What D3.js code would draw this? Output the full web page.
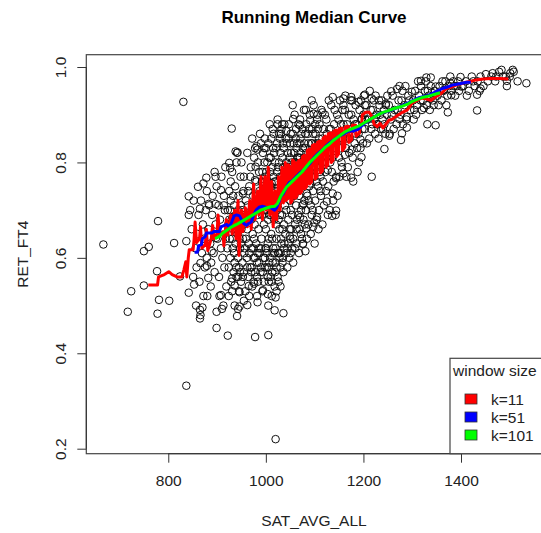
<!DOCTYPE html>
<html>
<head>
<meta charset="utf-8">
<script src="https://cdn.jsdelivr.net/npm/d3@7"></script>
<style>
  body { margin: 0; background: #fff; }
  svg { display: block; font-family: "Liberation Sans", Arial, Helvetica, sans-serif; }
</style>
</head>
<body>
<svg id="chart" width="541" height="533"></svg>
<script>
// tick values of the two axes
var xTicks = [800, 1000, 1200, 1400];
var yTicks = [0.2, 0.4, 0.6, 0.8, 1.0];

// scatter: [SAT_AVG_ALL, RET_FT4]
var outlierPoints = [
  [667,0.628],[717,0.487],[724,0.530],[750,0.614],[760,0.623],[750,0.542],[777,0.572],[779,0.677],
  [781,0.512],[778,0.483],[802,0.510],[812,0.631],[831,0.927],[837,0.635],[837,0.332],[824,0.561],
  [842,0.729],[842,0.690],[842,0.527],[853,0.544],[851,0.560],[865,0.491],[865,0.473],[870,0.496],
  [866,0.589],[879,0.583],[882,0.558],[880,0.520],[899,0.453],[899,0.487],[910,0.493],[908,0.522],
  [922,0.437],[930,0.871],[941,0.478],[943,0.493],[946,0.498],[962,0.501],[978,0.434],[983,0.507],
  [976,0.546],[965,0.541],[1005,0.438],[1020,0.220],[1020,0.517],[1004,0.524],[994,0.532],[1036,0.484],
  [946,0.528],[931,0.530],[936,0.542],[931,0.557],[898,0.642],[889,0.614],[879,0.600],[878,0.768],
  [872,0.756],[861,0.749],[865,0.703],[883,0.713],[897,0.770],[897,0.713],[908,0.742],[914,0.710],
  [925,0.799],[927,0.788],[938,0.823],[942,0.821],[955,0.770],[953,0.735],[981,0.834],[983,0.827],
  [979,0.791],[978,0.763],[993,0.759],[1012,0.756]
];
var upperPoints = [
  [1137,0.937],[1175,0.937],[1159,0.920],[1203,0.942],[1217,0.770],[1243,0.828],[1257,0.949],[1269,0.954],
  [1277,0.847],[1279,0.861],[1281,0.880],[1303,0.890],[1299,0.948],[1318,0.971],[1329,0.978],[1338,0.978],
  [1348,0.878],[1348,0.959],[1365,0.952],[1378,0.966],[1399,0.979],[1401,0.959],[1433,0.909],[1433,0.942],
  [1440,0.955],[1451,0.985],[1465,0.987],[1483,0.994],[1494,0.971],[1501,0.987],[1506,0.994],[1534,0.966],
  [1492,0.980],[1472,0.980],
  [1056,0.891],[1024,0.880],[1034,0.880],[1042,0.866],[1070,0.878],[1091,0.888],[1116,0.905],[1098,0.902],
  [1159,0.934],[1190,0.927],[1203,0.920],[1217,0.934],[1232,0.930],[1246,0.923],[1289,0.895],[1253,0.856],
  [1274,0.891],[1317,0.930],[1324,0.914],[1338,0.934],[1373,0.905],[1380,0.941],[1289,0.873],[1331,0.880],
  [1197,0.891],[1169,0.863],[1194,0.848],[1196,0.811],[1176,0.827],[1162,0.816],[1159,0.777],[1175,0.768],
  [1144,0.767],[1137,0.735],[1125,0.718],[1144,0.699],[1136,0.688],[1105,0.685],[1099,0.674],[1097,0.665],
  [1081,0.614],[1076,0.629],[1083,0.662],[1063,0.660],[1049,0.646],[1070,0.685],[1077,0.713],[1084,0.735],
  [1091,0.756],[1112,0.770],[1127,0.784],[1112,0.806]
];
var bandPoints = [
  // 840 - 920
  [845,0.70],[848,0.66],[852,0.72],[856,0.62],[858,0.58],[860,0.65],[862,0.69],[864,0.55],[867,0.72],
  [869,0.61],[871,0.67],[873,0.64],[875,0.58],[877,0.70],[879,0.74],[872,0.52],[866,0.48],[857,0.50],
  [882,0.66],[884,0.71],[886,0.63],[888,0.59],[890,0.69],[891,0.73],[893,0.61],[895,0.57],[897,0.67],
  [899,0.75],[901,0.64],[903,0.71],[904,0.56],[906,0.68],[908,0.62],[909,0.77],[911,0.60],[912,0.66],
  [914,0.73],[915,0.58],[916,0.70],[918,0.64],[919,0.54],[917,0.79],[913,0.50],[905,0.52],[887,0.54],[895,0.78],
  // 920 - 960
  [921,0.62],[922,0.70],[923,0.67],[924,0.58],[925,0.74],[926,0.64],[927,0.60],[928,0.72],[929,0.55],
  [930,0.68],[931,0.78],[932,0.62],[933,0.66],[934,0.57],[935,0.71],[936,0.59],[937,0.75],[938,0.63],
  [939,0.69],[940,0.56],[941,0.82],[942,0.65],[943,0.60],[944,0.73],[945,0.58],[946,0.68],[947,0.62],
  [948,0.77],[949,0.55],[950,0.66],[951,0.70],[952,0.59],[953,0.64],[954,0.74],[955,0.57],[956,0.61],
  [957,0.69],[958,0.53],[959,0.72],[924,0.52],[936,0.50],[945,0.53],[955,0.51],[940,0.80],[950,0.80],
  [928,0.76],[953,0.56],[947,0.57],[943,0.56],[939,0.58],[935,0.61],[946,0.64],[957,0.62],[933,0.73],[949,0.71],
  [925,0.68],[931,0.64],[937,0.67],[943,0.70],[949,0.63],[955,0.67],[959,0.64],[927,0.70],
  // 960 - 1000
  [961,0.60],[962,0.66],[963,0.71],[964,0.56],[965,0.63],[966,0.75],[967,0.68],[968,0.58],[969,0.79],
  [970,0.62],[971,0.70],[972,0.54],[973,0.65],[974,0.73],[975,0.60],[976,0.81],[977,0.67],[978,0.57],
  [979,0.71],[980,0.63],[981,0.76],[982,0.59],[983,0.69],[984,0.55],[985,0.66],[986,0.78],[987,0.61],
  [988,0.72],[989,0.57],[990,0.84],[991,0.64],[992,0.69],[993,0.53],[994,0.75],[995,0.60],[996,0.67],
  [997,0.80],[998,0.58],[999,0.73],[962,0.82],[968,0.77],[972,0.85],[978,0.83],[984,0.80],[988,0.86],
  [994,0.82],[998,0.85],[966,0.52],[975,0.55],[982,0.52],[990,0.58],[996,0.55],[970,0.68],[980,0.70],
  [986,0.62],[992,0.76],[964,0.74],[976,0.64],[987,0.74],[999,0.62],[983,0.61],[971,0.58],[997,0.70],
  [962,0.58],[966,0.61],[970,0.57],[974,0.62],[978,0.60],[982,0.56],[986,0.59],[990,0.62],[994,0.57],
  [998,0.60],[991,0.72],[993,0.78],[995,0.74],[997,0.83],[999,0.77],
  // 1000 - 1040
  [1000,0.66],[1001,0.78],[1002,0.58],[1003,0.71],[1004,0.63],[1005,0.84],[1006,0.55],[1007,0.69],
  [1008,0.75],[1009,0.60],[1010,0.81],[1011,0.65],[1012,0.72],[1013,0.57],[1014,0.87],[1015,0.62],
  [1016,0.77],[1017,0.68],[1018,0.54],[1019,0.74],[1020,0.59],[1021,0.83],[1022,0.64],[1023,0.70],
  [1024,0.56],[1025,0.79],[1026,0.61],[1027,0.73],[1028,0.66],[1029,0.85],[1030,0.58],[1031,0.76],
  [1032,0.63],[1033,0.69],[1034,0.81],[1035,0.60],[1036,0.74],[1037,0.67],[1038,0.88],[1039,0.71],
  [1001,0.62],[1003,0.80],[1005,0.68],[1007,0.59],[1009,0.73],[1011,0.85],[1013,0.64],[1015,0.70],
  [1017,0.82],[1019,0.57],[1021,0.67],[1023,0.78],[1025,0.61],[1027,0.86],[1029,0.69],[1031,0.64],
  [1033,0.77],[1035,0.84],[1037,0.62],[1039,0.79],[1002,0.75],[1006,0.64],[1010,0.69],[1014,0.61],
  [1018,0.76],[1022,0.72],[1026,0.68],[1030,0.82],[1034,0.66],[1038,0.75],[1004,0.56],[1012,0.55],
  [1020,0.62],[1028,0.60],[1036,0.57],[1008,0.88],[1016,0.86],[1024,0.89],[1032,0.87],[1000,0.83],
  [1005,0.50],[1012,0.52],[1022,0.53],[1030,0.54],[1018,0.49],
  [1002,0.61],[1006,0.58],[1010,0.56],[1014,0.59],[1018,0.61],[1022,0.58],[1026,0.55],[1030,0.61],
  [1034,0.59],[1038,0.63],[1001,0.70],[1003,0.76],[1005,0.73],[1007,0.81],[1009,0.78],[1011,0.75],
  [1013,0.79],[1015,0.83],[1017,0.72],[1019,0.80],[1021,0.76],[1023,0.84],[1025,0.74],[1027,0.80],
  [1029,0.77],[1031,0.86],[1033,0.73],[1035,0.79],[1037,0.83],[1039,0.76],
  // 1040 - 1080
  [1040,0.65],[1041,0.77],[1042,0.70],[1043,0.84],[1044,0.62],[1045,0.74],[1046,0.68],[1047,0.88],
  [1048,0.79],[1049,0.66],[1050,0.72],[1051,0.61],[1052,0.82],[1053,0.75],[1054,0.69],[1055,0.86],
  [1056,0.64],[1057,0.78],[1058,0.73],[1059,0.90],[1060,0.67],[1061,0.80],[1062,0.71],[1063,0.63],
  [1064,0.84],[1065,0.76],[1066,0.69],[1067,0.88],[1068,0.73],[1069,0.66],[1070,0.81],[1071,0.78],
  [1072,0.70],[1073,0.86],[1074,0.64],[1075,0.75],[1076,0.83],[1077,0.68],[1078,0.91],[1079,0.72],
  [1042,0.80],[1046,0.76],[1050,0.84],[1054,0.78],[1058,0.82],[1062,0.87],[1066,0.74],[1070,0.89],
  [1074,0.80],[1078,0.77],[1044,0.58],[1048,0.60],[1052,0.66],[1056,0.59],[1060,0.62],[1064,0.68],
  [1068,0.61],[1072,0.65],[1076,0.63],[1080,0.67],[1043,0.73],[1051,0.70],[1059,0.76],[1067,0.81],
  [1075,0.71],[1047,0.85],[1055,0.92],[1063,0.79],[1071,0.85],[1079,0.84],
  [1042,0.61],[1046,0.63],[1050,0.64],[1054,0.62],[1041,0.85],[1043,0.79],[1045,0.82],[1047,0.77],
  [1049,0.81],[1051,0.86],[1053,0.80],[1055,0.77],[1057,0.84],[1059,0.80],[1061,0.85],[1063,0.83],
  [1065,0.81],[1067,0.78],[1069,0.84],[1071,0.82],[1073,0.80],[1075,0.87],[1077,0.79],[1079,0.81],
  // 1080 - 1120
  [1080,0.76],[1081,0.83],[1082,0.70],[1083,0.88],[1084,0.79],[1085,0.73],[1086,0.86],[1087,0.67],
  [1088,0.81],[1089,0.75],[1090,0.90],[1091,0.78],[1092,0.71],[1093,0.84],[1094,0.69],[1095,0.87],
  [1096,0.80],[1097,0.74],[1098,0.92],[1099,0.77],[1100,0.83],[1101,0.72],[1102,0.86],[1103,0.79],
  [1104,0.68],[1105,0.89],[1106,0.81],[1107,0.75],[1108,0.84],[1109,0.70],[1110,0.88],[1111,0.78],
  [1112,0.82],[1113,0.73],[1114,0.91],[1115,0.80],[1116,0.85],[1117,0.76],[1118,0.87],[1119,0.71],
  [1084,0.64],[1092,0.65],[1100,0.63],[1108,0.66],[1116,0.67],[1088,0.72],[1096,0.70],[1104,0.76],
  [1112,0.74],[1082,0.91],[1094,0.93],[1106,0.90],[1118,0.80],
  [1081,0.86],[1083,0.82],[1085,0.80],[1087,0.84],[1089,0.87],[1091,0.82],[1093,0.80],[1095,0.84],
  [1097,0.86],[1099,0.81],[1101,0.88],[1103,0.84],[1105,0.82],[1107,0.87],[1109,0.85],
  // 1120 - 1200
  [1120,0.84],[1122,0.78],[1124,0.89],[1126,0.82],[1128,0.75],[1130,0.87],[1132,0.80],[1134,0.92],
  [1136,0.85],[1138,0.72],[1140,0.88],[1142,0.83],[1144,0.77],[1146,0.90],[1148,0.86],[1150,0.81],
  [1152,0.93],[1154,0.88],[1156,0.79],[1158,0.85],[1121,0.90],[1125,0.86],[1129,0.93],[1133,0.87],
  [1137,0.81],[1141,0.91],[1145,0.84],[1149,0.89],[1153,0.83],[1157,0.91],[1123,0.74],[1131,0.70],
  [1139,0.76],[1147,0.73],[1155,0.80],[1127,0.69],[1143,0.69],[1135,0.78],[1151,0.77],[1159,0.88],
  [1160,0.86],[1162,0.91],[1164,0.83],[1166,0.88],[1168,0.79],[1170,0.90],[1172,0.85],[1174,0.93],
  [1176,0.87],[1178,0.81],[1180,0.89],[1182,0.84],[1184,0.92],[1186,0.88],[1188,0.78],[1190,0.86],
  [1192,0.91],[1194,0.83],[1196,0.89],[1198,0.87],[1163,0.94],[1167,0.85],[1171,0.82],[1175,0.90],
  [1179,0.76],[1183,0.88],[1187,0.83],[1191,0.80],[1195,0.93],[1199,0.84],[1165,0.77],[1185,0.86],[1177,0.93],
  // 1200 - 1300
  [1200,0.90],[1203,0.87],[1206,0.92],[1209,0.89],[1212,0.85],[1215,0.91],[1218,0.88],[1221,0.93],
  [1224,0.86],[1227,0.90],[1230,0.88],[1233,0.92],[1236,0.87],[1239,0.89],[1242,0.91],[1245,0.86],
  [1248,0.90],[1201,0.94],[1207,0.84],[1213,0.95],[1219,0.91],[1225,0.94],[1231,0.85],[1237,0.93],
  [1243,0.88],[1249,0.94],[1204,0.89],[1216,0.87],[1228,0.88],[1240,0.87],[1246,0.92],[1222,0.89],[1234,0.90],
  [1252,0.92],[1256,0.89],[1260,0.94],[1264,0.91],[1268,0.88],[1272,0.93],[1276,0.90],[1280,0.95],
  [1284,0.92],[1288,0.89],[1292,0.94],[1296,0.91],[1254,0.86],[1262,0.87],[1270,0.91],[1278,0.93],
  [1286,0.96],[1294,0.93],[1258,0.90],[1274,0.96],
  // 1300 - 1530
  [1302,0.93],[1306,0.95],[1310,0.92],[1314,0.94],[1318,0.96],[1322,0.93],[1326,0.95],[1330,0.92],
  [1334,0.94],[1338,0.96],[1342,0.93],[1346,0.95],[1304,0.91],[1312,0.97],[1320,0.91],[1328,0.97],
  [1336,0.91],[1344,0.92],[1308,0.90],[1332,0.95],[1352,0.94],[1356,0.96],[1360,0.93],[1364,0.95],
  [1368,0.97],[1372,0.94],[1376,0.96],[1380,0.95],[1384,0.97],[1388,0.94],[1392,0.96],[1396,0.95],
  [1354,0.92],[1362,0.97],[1370,0.92],[1378,0.98],[1386,0.96],[1394,0.97],[1404,0.96],[1410,0.97],
  [1416,0.95],[1422,0.98],[1428,0.96],[1434,0.97],[1440,0.98],[1446,0.96],[1412,0.94],[1425,0.97],
  [1438,0.95],[1455,0.97],[1462,0.98],[1470,0.97],[1478,0.99],[1486,0.98],[1494,0.96],[1500,0.98],
  [1508,0.99],[1516,0.97]
];

// running median curves, one per window size
var medianK11 = [
  [759,0.543],[778,0.543],[780,0.560],[792,0.565],[801,0.571],[808,0.565],[818,0.560],[828,0.560],
  [832,0.575],[836,0.592],[838,0.560],[841,0.600],[843,0.617],[851,0.617],[853,0.640],[855,0.675],
  [858,0.632],[864,0.640],[866,0.665],[869,0.620],[876,0.628],[878,0.660],[881,0.615],[888,0.640],
  [891,0.668],[894,0.640],[900,0.650],[902,0.690],[905,0.650],[912,0.655],[914,0.625],[919,0.680],
  [922,0.648],[928,0.690],[931,0.650],[936,0.700],[939,0.640],[943,0.720],[945,0.605],[950,0.700],
  [953,0.655],[958,0.705],[962,0.665],[967,0.720],[970,0.660],[975,0.755],[978,0.680],[983,0.740],
  [986,0.690],[990,0.770],[993,0.680],[998,0.770],[1001,0.700],[1005,0.790],[1008,0.690],[1012,0.760],
  [1015,0.665],[1019,0.740],[1022,0.680],[1026,0.770],[1029,0.700],[1033,0.790],[1036,0.715],[1040,0.800],
  [1041,0.720],[1045,0.725],[1046,0.795],[1050,0.790],[1051,0.715],[1054,0.720],[1055,0.805],[1059,0.800],
  [1060,0.725],[1064,0.730],[1065,0.800],[1069,0.805],[1070,0.735],[1074,0.740],[1075,0.812],[1079,0.815],
  [1080,0.745],[1084,0.750],[1085,0.825],[1089,0.828],[1090,0.755],[1094,0.760],[1095,0.835],[1100,0.838],
  [1101,0.765],[1105,0.770],[1106,0.842],[1111,0.845],[1112,0.778],[1116,0.782],[1117,0.850],[1122,0.855],
  [1123,0.790],[1127,0.795],[1128,0.860],[1133,0.862],[1134,0.800],[1138,0.805],[1139,0.865],[1144,0.868],
  [1145,0.812],[1149,0.818],[1150,0.870],[1156,0.872],[1157,0.825],[1162,0.832],[1163,0.875],[1169,0.876],
  [1170,0.842],[1176,0.848],[1177,0.878],[1184,0.878],[1185,0.855],[1192,0.862],[1193,0.878],[1196,0.880],
  [1198,0.900],[1205,0.905],[1212,0.905],[1218,0.895],
  [1222,0.880],[1228,0.875],[1234,0.882],[1240,0.872],[1246,0.880],[1252,0.888],[1258,0.890],[1265,0.895],
  [1272,0.900],[1280,0.905],[1290,0.910],[1300,0.925],[1310,0.930],[1320,0.935],[1330,0.933],[1338,0.930],
  [1345,0.935],[1352,0.940],[1360,0.945],[1370,0.955],[1380,0.958],[1390,0.962],[1400,0.965],[1410,0.968],
  [1420,0.970],[1430,0.973],[1445,0.975],[1460,0.976],[1480,0.976],[1497,0.975]
];
var medianK51 = [
  [854,0.612],[860,0.612],[862,0.625],[868,0.628],[870,0.640],[876,0.645],[878,0.652],[890,0.652],
  [893,0.655],[905,0.655],[908,0.665],[915,0.668],[920,0.670],[925,0.665],[930,0.675],[935,0.688],
  [940,0.690],[946,0.688],[950,0.680],[955,0.672],[960,0.668],[965,0.672],[970,0.675],[975,0.690],
  [980,0.700],[986,0.706],[992,0.708],[1000,0.706],[1010,0.705],[1018,0.700],[1022,0.705],[1026,0.715],
  [1030,0.728],[1036,0.735],[1042,0.748],[1048,0.758],[1055,0.762],[1062,0.770],[1070,0.778],[1078,0.785],
  [1085,0.792],[1092,0.800],[1100,0.812],[1108,0.820],[1116,0.826],[1124,0.835],[1132,0.842],[1140,0.848],
  [1150,0.855],[1160,0.860],[1170,0.866],[1180,0.866],[1190,0.870],[1198,0.878],[1206,0.885],[1214,0.890],
  [1222,0.895],[1232,0.902],[1242,0.905],[1252,0.908],[1262,0.912],[1272,0.916],[1282,0.920],[1292,0.925],
  [1302,0.930],[1312,0.935],[1322,0.938],[1332,0.940],[1342,0.945],[1352,0.950],[1362,0.955],[1372,0.958],
  [1382,0.962],[1392,0.964],[1402,0.966],[1412,0.968],[1420,0.968]
];
var medianK101 = [
  [896,0.640],[905,0.645],[912,0.652],[920,0.658],[930,0.665],[940,0.670],[950,0.676],[960,0.682],
  [970,0.688],[980,0.694],[990,0.700],[1000,0.704],[1010,0.707],[1018,0.708],[1024,0.714],[1030,0.728],
  [1036,0.738],[1042,0.748],[1050,0.756],[1058,0.764],[1066,0.772],[1074,0.780],[1082,0.790],[1090,0.800],
  [1098,0.808],[1106,0.816],[1114,0.824],[1122,0.832],[1130,0.838],[1138,0.846],[1146,0.852],[1154,0.858],
  [1162,0.864],[1170,0.868],[1180,0.872],[1190,0.876],[1200,0.882],[1210,0.888],[1220,0.894],[1230,0.900],
  [1240,0.905],[1250,0.908],[1260,0.912],[1270,0.915],[1280,0.918],[1290,0.922],[1300,0.928],[1310,0.932],
  [1320,0.936],[1330,0.938],[1340,0.941],[1350,0.944],[1357,0.946]
];

var legendLabels = ["k=11", "k=51", "k=101"];

var svg = d3.select("#chart");

// plot region, R style box  (don't call it "top", that's window.top)
var plotL = 86.3, plotR = 542, plotT = 54.7, plotB = 453.7;

var x = d3.scaleLinear().domain([632, 1566]).range([plotL, plotR]);
var y = d3.scaleLinear().domain([0.1895, 1.0258]).range([plotB, plotT]);

var fontSize = 15.5;

// title
svg.append("text")
  .attr("x", 314).attr("y", 23)
  .attr("text-anchor", "middle")
  .style("font-weight", "bold")
  .style("font-size", "17px")
  .text("Running Median Curve");

// scatter points
var allPoints = outlierPoints.concat(bandPoints, upperPoints);
svg.append("g")
  .selectAll("circle")
  .data(allPoints)
  .join("circle")
  .attr("cx", d => x(d[0]))
  .attr("cy", d => y(d[1]))
  .attr("r", 3.8)
  .attr("fill", "none")
  .attr("stroke", "#111")
  .attr("stroke-width", 1);

// the three running median lines, red under blue under green
var line = d3.line().x(d => x(d[0])).y(d => y(d[1]));
var curves = [
  { pts: medianK11, color: "#ff0000" },
  { pts: medianK51, color: "#0000ff" },
  { pts: medianK101, color: "#00ff00" }
];
curves.forEach((c) => {
  svg.append("path")
    .datum(c.pts)
    .attr("d", line)
    .attr("fill", "none")
    .attr("stroke", c.color)
    .attr("stroke-width", 3)
    .attr("stroke-linejoin", "round");
});

// box
svg.append("rect")
  .attr("x", plotL).attr("y", plotT)
  .attr("width", plotR - plotL).attr("height", plotB - plotT)
  .attr("fill", "none")
  .attr("stroke", "#444")
  .attr("stroke-width", 1.2);

// x axis
var xAxis = svg.append("g")
  .attr("transform", "translate(0," + plotB + ")")
  .call(d3.axisBottom(x).tickValues(xTicks).tickFormat(d3.format("d")).tickSize(9).tickPadding(12).tickSizeOuter(0));
xAxis.select(".domain").attr("d", "M" + x(800) + ",0H" + x(1400)).attr("stroke", "#333");
xAxis.selectAll(".tick line").attr("stroke", "#333");
xAxis.selectAll("text")
  .style("font-size", fontSize + "px")
  .style("font-family", "'Liberation Sans', Arial, sans-serif")
  .attr("fill", "#222");

// y axis, labels turned like R does
var yAxis = svg.append("g")
  .attr("transform", "translate(" + plotL + ",0)")
  .call(d3.axisLeft(y).tickValues(yTicks).tickSize(9).tickFormat(d3.format(".1f")).tickSizeOuter(0));
yAxis.select(".domain").attr("d", "M0," + y(0.2) + "V" + y(1.0)).attr("stroke", "#333");
yAxis.selectAll(".tick line").attr("stroke", "#333");
yAxis.selectAll("text")
  .attr("x", null).attr("dy", null)
  .attr("transform", "translate(-20,0) rotate(-90)")
  .attr("text-anchor", "middle")
  .style("font-size", fontSize + "px")
  .style("font-family", "'Liberation Sans', Arial, sans-serif")
  .attr("fill", "#222");

// axis titles
svg.append("text")
  .attr("x", 314).attr("y", 526)
  .attr("text-anchor", "middle")
  .style("font-size", fontSize + "px")
  .attr("fill", "#222")
  .text("SAT_AVG_ALL");

svg.append("text")
  .attr("transform", "translate(28," + ((plotT + plotB) / 2) + ") rotate(-90)")
  .attr("text-anchor", "middle")
  .style("font-size", fontSize + "px")
  .attr("fill", "#222")
  .text("RET_FT4");

// legend in the bottom right corner
var legend = svg.append("g");
legend.append("rect")
  .attr("x", 450).attr("y", 358.3)
  .attr("width", plotR - 450).attr("height", plotB - 358.3)
  .attr("fill", "#fff")
  .attr("stroke", "#444")
  .attr("stroke-width", 1.2);
legend.append("text")
  .attr("x", 453).attr("y", 376)
  .style("font-size", fontSize + "px")
  .attr("fill", "#222")
  .text("window size");

legendLabels.forEach((lab, i) => {
  var cy = 399 + i * 18;
  legend.append("rect")
    .attr("x", 465).attr("y", cy - 5)
    .attr("width", 12).attr("height", 10)
    .attr("fill", curves[i].color)
    .attr("stroke", "#333")
    .attr("stroke-width", 0.8);
  legend.append("text")
    .attr("x", 491).attr("y", cy + 5.5)
    .style("font-size", fontSize + "px")
    .attr("fill", "#222")
    .text(lab);
});
</script>
</body>
</html>
